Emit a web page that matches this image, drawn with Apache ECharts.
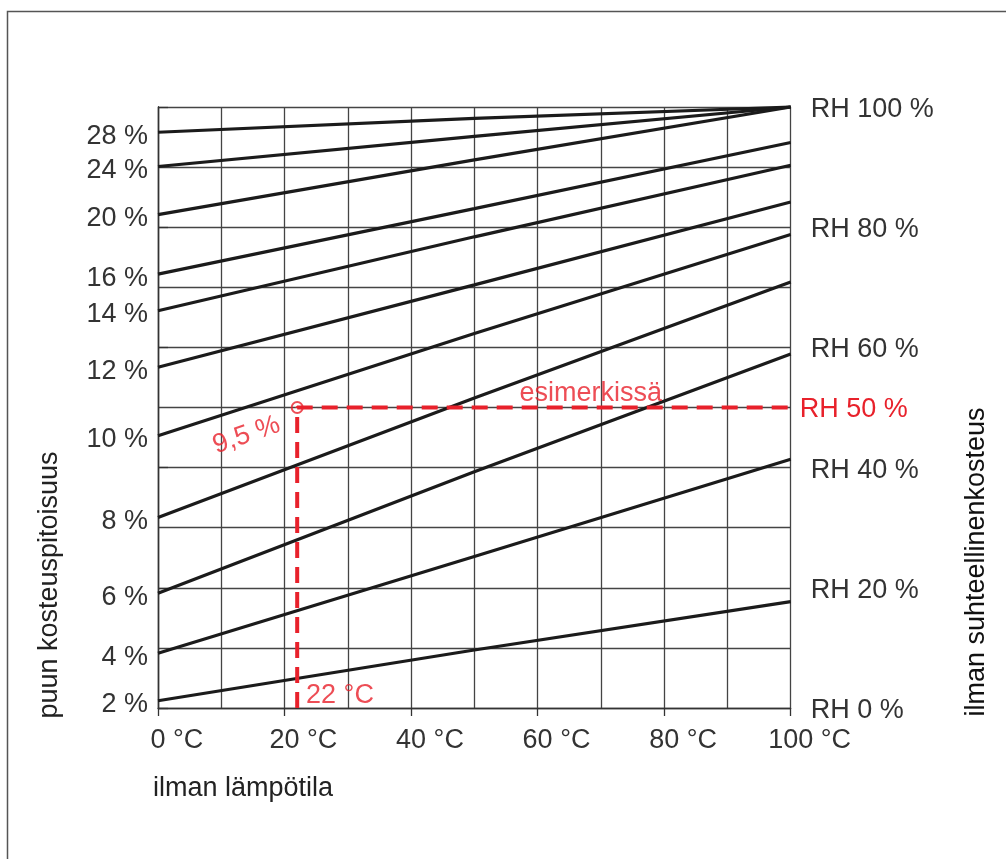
<!DOCTYPE html>
<html>
<head>
<meta charset="utf-8">
<script src="https://cdn.jsdelivr.net/npm/echarts@6/dist/echarts.min.js"></script>
<style>
html,body{margin:0;padding:0;background:#fff;}
#chart{width:1006px;height:859px;}
</style>
</head>
<body>
<div id="chart"></div>
<script>
// ---- data ----
const temps = [0, 50, 100];                       // °C sample points
const moistureLabels = ['28 %', '24 %', '20 %', '16 %', '14 %', '12 %', '10 %', '8 %', '6 %', '4 %', '2 %'];
const rhAt0   = [95.8, 90.1, 82.1, 72.2, 66.1, 56.7, 45.3, 31.7, 19.1, 9.1, 1.2];
const rhAt50  = [98.1, 95.1, 91.2, 83.1, 78.4, 70.4, 62.3, 51.6, 39.3, 25.2, 9.65];
const rhAt100 = [100, 100, 100, 94.1, 90.3, 84.2, 78.8, 70.9, 58.9, 41.4, 17.7];
const xTickLabels = [0, 20, 40, 60, 80, 100];
const rhTickLabels = [0, 20, 40, 60, 80, 100];
const exampleTemp = 22;
const exampleRH = 50;
const exampleMoisture = '9,5 %';

const FONT = 'Liberation Sans';
const FS = 27;
const RED = '#e8212b';
const TXT = '#333';

const chart = echarts.init(document.getElementById('chart'), null, {renderer: 'canvas'});

const curveSeries = moistureLabels.map((lab, i) => ({
  name: lab,
  type: 'line',
  xAxisIndex: 0,
  yAxisIndex: 0,
  data: temps.map((t, k) => [t, [rhAt0[i], rhAt50[i], rhAt100[i]][k]]),
  symbol: 'none',
  clip: false,
  lineStyle: {color: '#1b1b1b', width: 3.2},
  z: 3,
  silent: true
}));

const option = {
  animation: false,
  backgroundColor: '#fff',
  textStyle: {fontFamily: FONT},
  grid: {left: 158, right: 215.3, top: 107, bottom: 151, outerBoundsMode: 'none'},
  xAxis: [
    {
      type: 'value', min: 0, max: 100, interval: 10, position: 'bottom',
      axisLine: {show: true, lineStyle: {color: '#333', width: 1.3}},
      axisTick: {show: false},
      axisLabel: {show: false},
      splitLine: {show: true, lineStyle: {color: '#444', width: 1.3}}
    },
    {
      type: 'value', min: 0, max: 100, interval: 20, position: 'bottom',
      axisLine: {show: false},
      axisTick: {show: true, length: 8, lineStyle: {color: '#333', width: 1.3}},
      splitLine: {show: false},
      axisLabel: {
        show: true, margin: 19, align: 'center',
        customValues: xTickLabels,
        formatter: v => '{p|}{v|' + v + ' °C}',
        rich: {
          p: {width: 1.4 * FS, fontSize: FS, fontFamily: FONT},
          v: {fontSize: FS, fontFamily: FONT, color: TXT}
        }
      }
    }
  ],
  yAxis: [
    {
      type: 'value', min: 0, max: 100, interval: 10, position: 'left',
      axisLine: {show: true, lineStyle: {color: '#333', width: 1.3}},
      axisTick: {show: false},
      splitLine: {show: true, lineStyle: {color: '#444', width: 1.3}},
      axisLabel: {
        show: true, margin: 10,
        customValues: rhAt0,
        formatter: v => {
          for (let i = 0; i < rhAt0.length; i++) if (Math.abs(rhAt0[i] - v) < 1e-6) return '{t|' + moistureLabels[i] + '}';
          return '';
        },
        rich: {t: {fontSize: FS, fontFamily: FONT, color: TXT, padding: [8, 0, 0, 0]}}
      }
    },
    {
      type: 'value', min: 0, max: 100, interval: 20, position: 'right',
      axisLine: {show: true, lineStyle: {color: '#333', width: 1.3}},
      axisTick: {show: true, length: 10, customValues: rhTickLabels, lineStyle: {color: '#333', width: 1.3}},
      splitLine: {show: false},
      axisLabel: {
        show: true, margin: 20,
        customValues: rhTickLabels,
        formatter: v => '{t|RH ' + v + ' %}',
        rich: {t: {fontSize: FS, fontFamily: FONT, color: TXT, padding: [5, 0, 0, 0]}}
      }
    }
  ],
  series: curveSeries.concat([
    {
      name: 'example',
      type: 'line',
      data: [[exampleTemp, 0], [exampleTemp, exampleRH], [100, exampleRH]],
      symbol: 'none',
      clip: false,
      lineStyle: {color: RED, width: 4, type: [16, 9]},
      z: 5,
      endLabel: {
        show: true, distance: 9, formatter: '{t|RH ' + exampleRH + ' %}',
        rich: {t: {color: RED, fontSize: FS, fontFamily: FONT, padding: [5, 0, 0, 0]}}
      },
      silent: true
    },
    {
      name: 'examplePoint',
      type: 'scatter',
      data: [[exampleTemp, exampleRH]],
      symbol: 'circle',
      symbolSize: 11,
      itemStyle: {color: 'rgba(255,255,255,0)', borderColor: RED, borderWidth: 2},
      z: 6,
      silent: true
    },
    {
      name: 'notes',
      type: 'scatter',
      symbolSize: 0,
      z: 7,
      silent: true,
      data: [
        {value: [14.0, 45.4], label: {show: true, position: 'inside', formatter: exampleMoisture, rotate: 19, color: RED, fontSize: FS, fontFamily: FONT}},
        {value: [68.4, 52.3], label: {show: true, position: 'inside', formatter: 'esimerkissä', color: RED, fontSize: FS, fontFamily: FONT}},
        {value: [23.4, 2.1], label: {show: true, position: 'right', distance: 0, formatter: exampleTemp + ' °C', color: RED, fontSize: FS, fontFamily: FONT}}
      ]
    }
  ]),
  graphic: [
    {
      type: 'polyline', silent: true,
      shape: {points: [[7.5, 860], [7.5, 11.5], [1007, 11.5]]},
      style: {stroke: '#555', lineWidth: 1.5, fill: null}
    },
    {
      type: 'text', silent: true, x: 153, y: 789,
      style: {text: 'ilman lämpötila', font: FS + 'px "' + FONT + '"', fill: '#222', align: 'left', verticalAlign: 'middle'}
    },
    {
      type: 'text', silent: true, x: 50, y: 585, rotation: Math.PI / 2,
      style: {text: 'puun kosteuspitoisuus', font: FS + 'px "' + FONT + '"', fill: '#222', align: 'center', verticalAlign: 'middle'}
    },
    {
      type: 'text', silent: true, x: 977, y: 562, rotation: Math.PI / 2,
      style: {text: 'ilman suhteellinenkosteus', font: FS + 'px "' + FONT + '"', fill: '#111', align: 'center', verticalAlign: 'middle'}
    }
  ]
};

chart.setOption(option);
</script>
</body>
</html>
